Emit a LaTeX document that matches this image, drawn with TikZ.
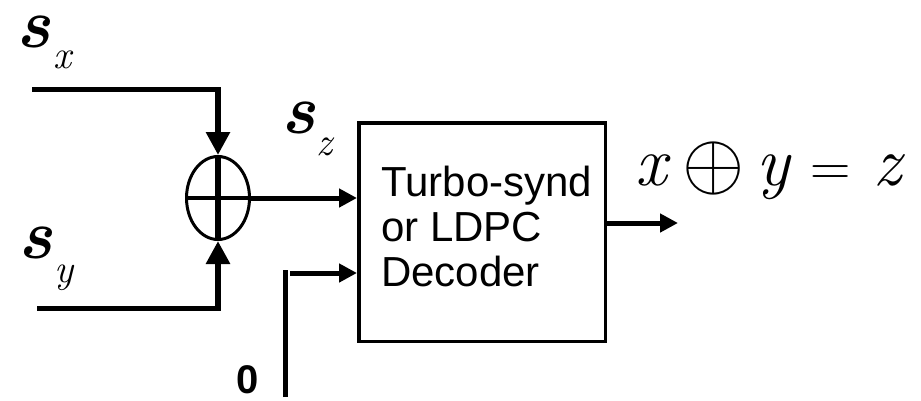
\RequirePackage{fix-cm}
\documentclass[tikz,border=0pt]{standalone}
\usepackage{fontspec}
\newfontfamily\arialfont{Liberation Sans}
\usetikzlibrary{arrows.meta,shapes.geometric}
\begin{document}
\begin{tikzpicture}[x=1pt,y=-1pt,
  wire/.style={line width=5pt},
  vwire/.style={line width=6.5pt},
  bigarr/.style={-{Triangle[length=23pt,width=23pt]}},
  smallarr/.style={-{Triangle[length=18pt,width=18pt]}},
  lab/.style={inner sep=0pt, anchor=base west, text height=34pt, text depth=0pt}]
\useasboundingbox (0,0) rectangle (921,400);

% XOR ellipse
\node[ellipse, draw, line width=3pt, minimum width=63pt, minimum height=83pt, inner sep=0pt] (xor) at (218,198) {};
\draw[line width=6pt] (xor.north) -- (xor.south);
\draw[line width=4pt] (xor.west) -- (xor.east);

% decoder box
\node[draw, line width=3.5pt, minimum width=246.5pt, minimum height=218.5pt, inner sep=0pt] (box) at (482,232) {};
\node[inner sep=0pt, anchor=west, align=left, font=\arialfont\fontsize{42}{45}\selectfont] (dec) at (381,226.5) {Turbo-synd\\or LDPC\\Decoder};

% s_x input
\coordinate (sxs) at (32,89);
\coordinate (sxc) at (218,89);
\draw[wire] (sxs) -- ([xshift=3pt]sxc);
\draw[vwire, bigarr] (sxc) -- (xor.north);

% s_y input
\coordinate (sys) at (37,308);
\coordinate (syc) at (218,308);
\draw[wire] (sys) -- ([xshift=3pt]syc);
\draw[vwire, bigarr] (syc) -- (xor.south);

% s_z
\draw[wire, smallarr] (xor.east) -- (xor.east -| box.west);

% zero input
\coordinate (zb) at (285,397);
\coordinate (zt) at (285,270);
\draw[wire] (zb) -- (zt);
\coordinate (zs) at (290,273);
\draw[wire, smallarr] (zs) -- (zs -| box.west);

% output
\coordinate (oe) at (678,223);
\draw[wire, smallarr] (box.east |- oe) -- (oe);

% labels
\node[lab] (sx) at (16,47) {\fontsize{70}{70}\selectfont\bfseries\itshape s\hspace{3pt}\raisebox{-21pt}{\fontsize{40}{40}\selectfont\mdseries x}};
\node[lab] (sy) at (18,258) {\fontsize{70}{70}\selectfont\bfseries\itshape s\hspace{2pt}\raisebox{-24pt}{\fontsize{40}{40}\selectfont\mdseries y}};
\node[lab] (sz) at (281,133) {\fontsize{70}{70}\selectfont\bfseries\itshape s\hspace{1pt}\raisebox{-22pt}{\fontsize{40}{40}\selectfont\mdseries z}};
\node[inner sep=0pt, font=\arialfont\bfseries\fontsize{40}{40}\selectfont] (zero) at (248,380) {0};
\node[lab, text height=50pt] (eq) at (635,185) {\fontsize{70}{70}\selectfont\itshape x\hspace{16pt}{\fontsize{80}{80}\selectfont\raisebox{-3pt}{$\oplus$}}\hspace{12pt}y\hspace{20pt}{\upshape\fontsize{56}{56}\selectfont =}\hspace{23pt}z};
\end{tikzpicture}
\end{document}
